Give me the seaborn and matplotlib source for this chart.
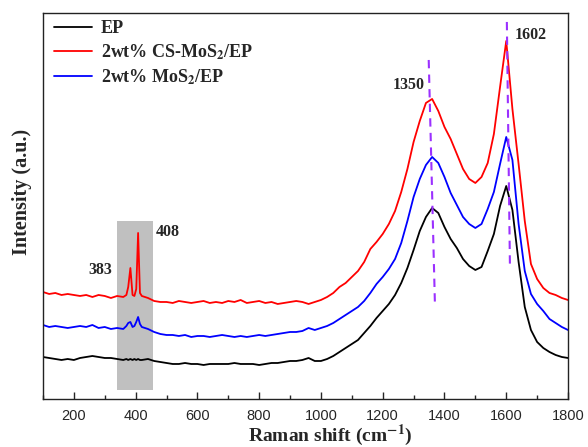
import numpy as np
import pandas as pd
import matplotlib
matplotlib.use("Agg")
import matplotlib.pyplot as plt
from matplotlib.patches import Rectangle
from matplotlib.ticker import MultipleLocator
import seaborn as sns

# Raman shift grid (cm-1), denser around the MoS2 bands
raman_shift = [100, 120, 140, 160, 180, 200, 220, 240, 260, 280, 300, 320, 340, 360,
               370, 376, 383, 390, 396, 402, 408, 414, 420,
               440, 460, 480, 500, 520, 540, 560, 580, 600, 620, 640, 660, 680, 700,
               720, 740, 760, 780, 800, 820, 840, 860, 880, 900, 920, 940, 960, 980,
               1000, 1020, 1040, 1060, 1080, 1100, 1120, 1140, 1160, 1180, 1200, 1220,
               1240, 1260, 1280, 1300, 1320, 1340, 1360, 1380, 1400, 1420, 1440, 1460,
               1480, 1500, 1520, 1540, 1560, 1580, 1600, 1620, 1640, 1660, 1680, 1700,
               1720, 1740, 1760, 1780, 1800]

ep = [42, 41, 40, 39, 40, 39, 41, 42, 43, 42, 41, 41, 40, 39,
      40, 39, 40, 39, 40, 39, 40, 39, 39,
      40, 38, 37, 36, 35, 35, 36, 35, 35, 34, 35, 35, 35, 35,
      36, 35, 35, 35, 34, 35, 36, 36, 37, 38, 38, 39, 41, 38,
      38, 40, 43, 47, 51, 55, 59, 66, 73, 81, 88, 95,
      104, 116, 131, 149, 168, 182, 191, 186, 172, 160, 151, 140,
      133, 129, 132, 148, 165, 193, 213, 189, 137, 92, 69, 57,
      51, 47, 44, 42, 41]

cs_mos2 = [107, 105, 106, 104, 105, 104, 103, 104, 102, 104, 103, 101, 103, 102,
           104, 112, 131, 104, 103, 110, 166, 106, 103,
           101, 98, 97, 97, 96, 98, 97, 96, 97, 98, 96, 97, 96, 98,
           97, 99, 96, 97, 98, 96, 97, 95, 96, 97, 98, 97, 95, 97,
           99, 102, 106, 112, 116, 122, 128, 137, 150, 157, 165, 175,
           188, 207, 230, 257, 278, 296, 300, 288, 272, 260, 245, 230,
           220, 216, 222, 236, 265, 312, 358, 290, 235, 178, 135, 120,
           111, 106, 104, 101, 99]

mos2 = [74, 72, 73, 72, 71, 72, 73, 72, 74, 71, 72, 70, 71, 70,
        73, 76, 77, 72, 73, 77, 82, 75, 72,
        70, 67, 65, 64, 64, 63, 64, 62, 63, 63, 62, 63, 64, 63,
        62, 63, 62, 63, 64, 63, 64, 65, 66, 67, 67, 68, 71, 69,
        71, 73, 76, 80, 84, 88, 92, 98, 106, 115, 122, 130,
        140, 156, 178, 202, 220, 234, 242, 236, 222, 206, 194, 182,
        175, 171, 175, 190, 207, 235, 262, 239, 175, 128, 105, 95,
        88, 80, 76, 72, 69]

samples = ["EP", r"2wt% CS-MoS$_{\mathbf{2}}$/EP", r"2wt% MoS$_{\mathbf{2}}$/EP"]
colors = ["#000000", "#ff0000", "#0000ff"]

# guide lines through D and G bands (x ends, intensity ends)
d_band_x = [1349, 1369]
d_band_y = [339, 96]
g_band_x = [1602, 1612]
g_band_y = [377, 132]

# shaded MoS2 region
box_x = [340, 456]
box_y = [9, 178]

peak_labels = ["383", "408", "1350", "1602"]
label_x = [285, 505, 1284, 1679]
label_y = [129, 167, 314, 364]

df = pd.concat([
    pd.DataFrame({"shift": raman_shift, "intensity": vals, "sample": name})
    for name, vals in zip(samples, [ep, cs_mos2, mos2])
], ignore_index=True)

sns.set_style("ticks")
plt.rcParams["font.family"] = ["Liberation Sans", "DejaVu Sans"]
plt.rcParams["mathtext.fontset"] = "stix"
serif = ["Liberation Serif", "DejaVu Serif"]

fig = plt.figure(figsize=(5.88, 4.47), dpi=100)
ax = fig.add_axes([0.0731, 0.1074, 0.8929, 0.8636])

ax.add_patch(Rectangle((box_x[0], box_y[0]), box_x[1] - box_x[0], box_y[1] - box_y[0],
                       facecolor="#c0c0c0", edgecolor="none", zorder=0))

sns.lineplot(data=df, x="shift", y="intensity", hue="sample", hue_order=samples,
             palette=dict(zip(samples, colors)), estimator=None, sort=False,
             linewidth=1.3, ax=ax)

ax.plot(d_band_x, d_band_y, color="#9b30ff", linestyle=(0, (4, 3)), linewidth=1.5, zorder=4)
ax.plot(g_band_x, g_band_y, color="#9b30ff", linestyle=(0, (4, 3)), linewidth=1.5, zorder=4)

for txt, tx, ty in zip(peak_labels, label_x, label_y):
    ax.text(tx, ty, txt, ha="center", va="center", fontsize=11.5, fontweight="bold", family=serif)

ax.set_xlim(100, 1800)
ax.set_ylim(0, 386)
ax.set_yticks([])
ax.xaxis.set_major_locator(MultipleLocator(200))
ax.xaxis.set_minor_locator(MultipleLocator(100))
ax.tick_params(axis="x", which="major", direction="in", length=5, width=1, labelsize=10.5, pad=7)
ax.tick_params(axis="x", which="minor", direction="in", length=3, width=1)
ax.tick_params(axis="x", which="both", top=False, bottom=True)
for s in ax.spines.values():
    s.set_linewidth(1.0)
    s.set_color("#222222")

ax.set_xlabel(r"Raman shift (cm$^{\mathbf{-1}}$)", fontsize=14, fontweight="bold", family=serif)
ax.set_ylabel("Intensity (a.u.)", fontsize=14.5, fontweight="bold", family=serif)
ax.xaxis.set_label_coords(0.547, -0.093)
ax.xaxis.label.set_va("center")
ax.yaxis.set_label_coords(-0.040, 0.536)
ax.yaxis.label.set_va("center")

leg = ax.legend(loc="upper left", bbox_to_anchor=(0.0, 1.01), frameon=False,
                handlelength=2.1, handletextpad=0.5, labelspacing=0.3,
                borderaxespad=0.2,
                prop={"family": serif, "weight": "bold", "size": 13})
for line in leg.get_lines():
    line.set_linewidth(1.3)

fig.savefig("out.png", dpi=100)
